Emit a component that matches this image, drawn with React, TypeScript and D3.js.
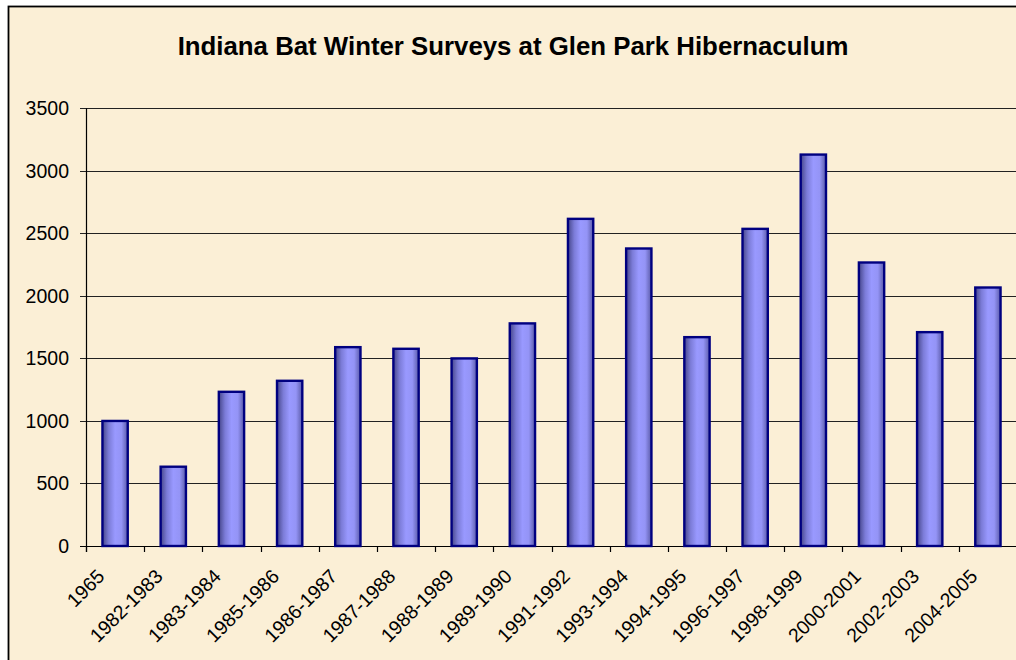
import React, { useRef, useEffect } from 'react';
import * as d3 from 'd3';

const seasons = [
  '1965', '1982-1983', '1983-1984', '1985-1986', '1986-1987', '1987-1988',
  '1988-1989', '1989-1990', '1991-1992', '1993-1994', '1994-1995', '1996-1997',
  '1998-1999', '2000-2001', '2002-2003', '2004-2005',
];
const batCounts = [
  1000, 634, 1233, 1321, 1590, 1577, 1500, 1780, 2616, 2379, 1670, 2536,
  3130, 2267, 1710, 2067,
];
const yTicks = [0, 500, 1000, 1500, 2000, 2500, 3000, 3500];
const title = 'Indiana Bat Winter Surveys at Glen Park Hibernaculum';

const FONT = 'Arial, "Liberation Sans", sans-serif';

const App = () => {
  const ref = useRef<SVGSVGElement>(null);

  useEffect(() => {
    if (!ref.current) return;
    const svg = d3.select(ref.current);
    svg.selectAll('*').remove();

    const width = 1016;
    const height = 660;
    const left = 86;
    const right = 1017;
    const top = 108.3;
    const bottom = 546;

    const defs = svg.append('defs');
    // 막대 그라데이션
    const grad = defs
      .append('linearGradient')
      .attr('id', 'barGrad')
      .attr('x1', 0)
      .attr('x2', 1)
      .attr('y1', 0)
      .attr('y2', 0);
    [
      [0, '#46468a'],
      [0.25, '#7c7cd8'],
      [0.5, '#9999ff'],
      [0.75, '#9494f6'],
      [1, '#5a5aa8'],
    ].forEach(([o, c]) => grad.append('stop').attr('offset', o as number).attr('stop-color', c as string));

    // 배경 + 테두리
    svg.append('rect').attr('width', width).attr('height', height).attr('fill', '#ffffff');
    svg
      .append('rect')
      .attr('x', 8.5)
      .attr('y', 6.5)
      .attr('width', width)
      .attr('height', height)
      .attr('fill', '#fbefd6')
      .attr('stroke', '#000')
      .attr('stroke-width', 1.8);

    const x = d3.scaleBand().domain(seasons).range([left, right]).paddingInner(0).paddingOuter(0);
    const y = d3.scaleLinear().domain([0, 3500]).range([bottom, top]);

    // 그리드
    svg
      .append('g')
      .selectAll('line')
      .data(yTicks)
      .enter()
      .append('line')
      .attr('x1', left - 6)
      .attr('x2', width)
      .attr('y1', (d) => Math.round(y(d)) + 0.5)
      .attr('y2', (d) => Math.round(y(d)) + 0.5)
      .attr('stroke', (d) => (d === 0 ? '#000' : '#222'))
      .attr('stroke-width', 1.2);

    // Y축 라벨
    svg
      .append('g')
      .selectAll('text')
      .data(yTicks)
      .enter()
      .append('text')
      .text((d) => d)
      .attr('x', 69)
      .attr('y', (d) => y(d))
      .attr('dy', '0.36em')
      .attr('text-anchor', 'end')
      .attr('font-size', '19.5px')
      .attr('fill', '#000')
      .style('font-family', FONT);

    // Y축 선
    svg
      .append('line')
      .attr('x1', left + 0.5)
      .attr('x2', left + 0.5)
      .attr('y1', top)
      .attr('y2', bottom + 6)
      .attr('stroke', '#000')
      .attr('stroke-width', 1.2);

    // X축 눈금
    svg
      .append('g')
      .selectAll('line')
      .data(seasons)
      .enter()
      .append('line')
      .attr('x1', (d) => Math.round(x(d) as number) + 0.5)
      .attr('x2', (d) => Math.round(x(d) as number) + 0.5)
      .attr('y1', bottom)
      .attr('y2', bottom + 6)
      .attr('stroke', '#000')
      .attr('stroke-width', 1.2);

    // 막대
    const bw = x.bandwidth() / 2.3;
    svg
      .append('g')
      .selectAll('rect')
      .data(batCounts)
      .enter()
      .append('rect')
      .attr('x', (d, i) => (x(seasons[i]) as number) + x.bandwidth() / 2 - bw / 2)
      .attr('y', (d) => y(d))
      .attr('width', bw)
      .attr('height', (d) => bottom - y(d))
      .attr('fill', 'url(#barGrad)')
      .attr('stroke', '#000080')
      .attr('stroke-width', 2.4);

    // X축 라벨 (45도 회전)
    svg
      .append('g')
      .selectAll('text')
      .data(seasons)
      .enter()
      .append('text')
      .text((d) => d)
      .attr(
        'transform',
        (d) => `translate(${(x(d) as number) + x.bandwidth() / 2 - 19},${bottom + 22}) rotate(-45)`,
      )
      .attr('text-anchor', 'end')
      .attr('dy', '0.7em')
      .attr('font-size', '19.5px')
      .attr('fill', '#000')
      .style('font-family', FONT);

    // 제목
    svg
      .append('text')
      .text(title)
      .attr('x', 513)
      .attr('y', 55)
      .attr('text-anchor', 'middle')
      .attr('font-size', '25.8px')
      .attr('font-weight', 'bold')
      .attr('fill', '#000')
      .style('font-family', FONT);
  }, []);

  return (
    <svg
      ref={ref}
      width={1016}
      height={660}
      style={{ position: 'absolute', left: 0, top: 0, display: 'block' }}
    />
  );
};

export default App;
